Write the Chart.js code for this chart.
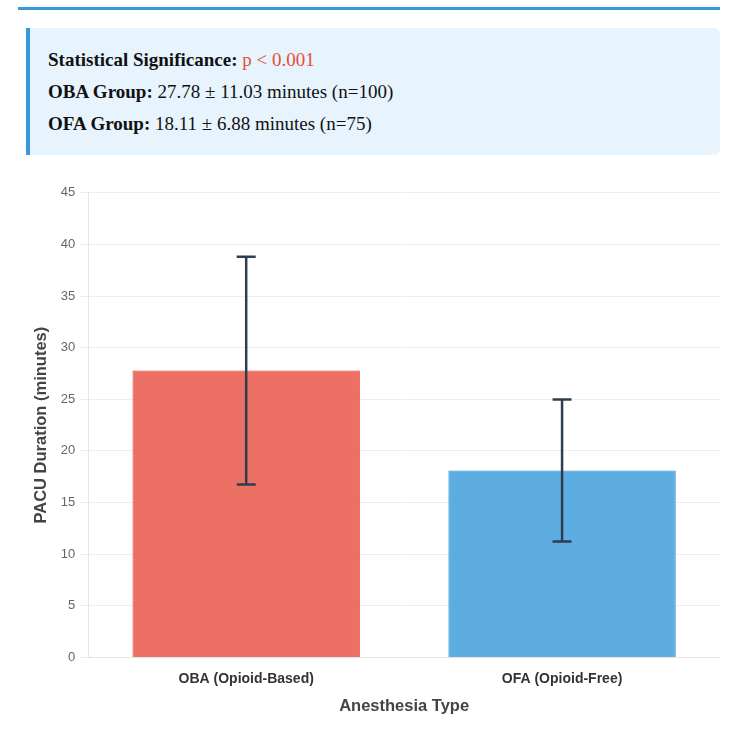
<!DOCTYPE html>
<html>
<head>
<meta charset="utf-8">
<script src="https://cdn.jsdelivr.net/npm/chart.js@4.4.0/dist/chart.umd.min.js"></script>
<style>
  html, body { margin: 0; padding: 0; background: #ffffff; width: 750px; height: 735px; overflow: hidden; }
  #topline { position: absolute; left: 18px; top: 7px; width: 702px; height: 3px; background: #3498db; }
  #info { position: absolute; left: 26px; top: 28px; width: 694px; height: 127px; background: #e8f4fd;
          border-left: 4px solid #3498db; border-radius: 0 6px 6px 0; box-sizing: border-box;
          font-family: "Liberation Serif", "Times New Roman", serif; font-size: 19px; color: #111; padding: 22px 0 0 18px; }
  #info p { margin: 0 0 12px 0; line-height: 20px; }
  #info b { font-weight: bold; }
  .sig { color: #e74c3c; }
  #wrap { position: absolute; left: 28px; top: 180px; width: 692px; height: 540px; }
</style>
</head>
<body>
<div id="topline"></div>
<div id="info">
  <p><b>Statistical Significance:</b> <span class="sig">p &lt; 0.001</span></p>
  <p><b>OBA Group:</b> 27.78 ± 11.03 minutes (n=100)</p>
  <p><b>OFA Group:</b> 18.11 ± 6.88 minutes (n=75)</p>
</div>
<div id="wrap"><canvas id="c"></canvas></div>
<script>
const categories = ["OBA (Opioid-Based)", "OFA (Opioid-Free)"];
const means = [27.78, 18.11];
const sds = [11.03, 6.88];
const yTicks = [0, 5, 10, 15, 20, 25, 30, 35, 40, 45];

const errorBarPlugin = {
  id: 'errorBars',
  afterDatasetsDraw(chart) {
    const ctx = chart.ctx;
    const meta = chart.getDatasetMeta(0);
    const y = chart.scales.y;
    ctx.save();
    ctx.strokeStyle = '#2c3e50';
    ctx.lineWidth = 2.5;
    meta.data.forEach((bar, i) => {
      const x = bar.x;
      const top = y.getPixelForValue(means[i] + sds[i]);
      const bot = y.getPixelForValue(means[i] - sds[i]);
      const cap = 9.5;
      ctx.beginPath();
      ctx.moveTo(x, top); ctx.lineTo(x, bot);
      ctx.moveTo(x - cap, top); ctx.lineTo(x + cap, top);
      ctx.moveTo(x - cap, bot); ctx.lineTo(x + cap, bot);
      ctx.stroke();
    });
    ctx.restore();
  }
};

new Chart(document.getElementById('c'), {
  type: 'bar',
  data: {
    labels: categories,
    datasets: [{
      data: means,
      backgroundColor: ['rgba(231,76,60,0.8)', 'rgba(52,152,219,0.8)'],
      borderColor: ['#e74c3c', '#3498db'],
      borderWidth: 1
    }]
  },
  options: {
    responsive: true,
    maintainAspectRatio: false,
    animation: false,
    layout: { padding: { top: 8, right: 0, bottom: 0, left: 0 } },
    plugins: { legend: { display: false }, tooltip: { enabled: false } },
    scales: {
      x: {
        grid: { display: false },
        border: { color: '#e5e5e5' },
        ticks: { color: '#333', font: { family: 'Liberation Sans, Arial', size: 14, weight: 'bold' }, padding: 5 },
        title: { display: true, text: 'Anesthesia Type', color: '#444', font: { family: 'Liberation Sans, Arial', size: 16.5, weight: 'bold' }, padding: { top: 4 } }
      },
      y: {
        min: 0, max: 45,
        afterBuildTicks(axis) { axis.ticks = yTicks.map(v => ({ value: v })); },
        grid: { color: '#eeeeee' },
        border: { color: '#e5e5e5' },
        ticks: { color: '#666', font: { family: 'Liberation Sans, Arial', size: 13 }, padding: 5 },
        title: { display: true, text: 'PACU Duration (minutes)', color: '#444', font: { family: 'Liberation Sans, Arial', size: 16.5, weight: 'bold' }, padding: { bottom: 4 } }
      }
    }
  },
  plugins: [errorBarPlugin]
});
</script>
</body>
</html>
